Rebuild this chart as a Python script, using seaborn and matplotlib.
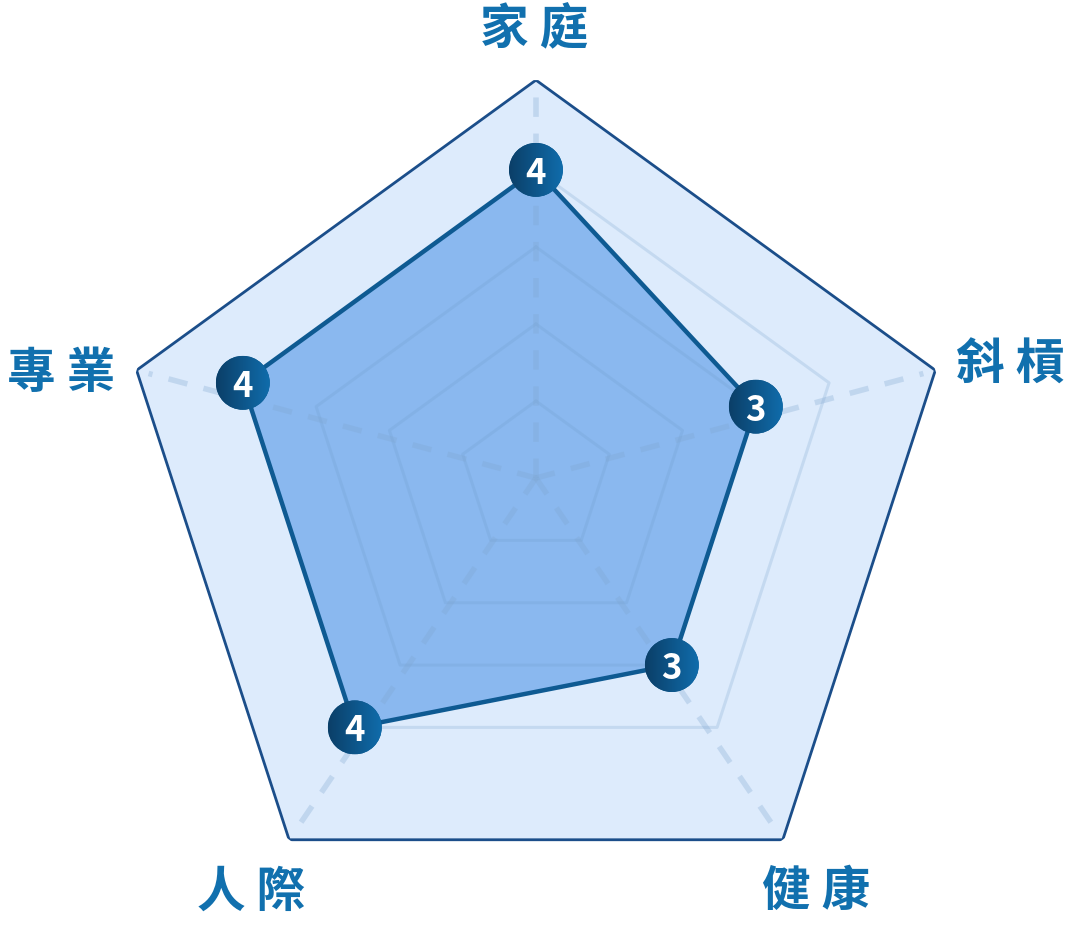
import numpy as np
import pandas as pd
import seaborn as sns
import matplotlib.pyplot as plt
from matplotlib.patches import Circle
from matplotlib.colors import LinearSegmentedColormap

categories = ["家庭", "斜槓", "健康", "人際", "專業"]
labels = ["家 庭", "斜 槓", "健 康", "人 際", "專 業"]
scores = [4, 3, 3, 4, 4]
levels = [1, 2, 3, 4]
r_max = 5.45

sns.set_theme(style="white")
plt.rcParams['font.family'] = ['Noto Sans CJK TC', 'DejaVu Sans']

df = pd.DataFrame({"category": categories, "score": scores})
n = len(df)
df["angle"] = np.linspace(0, 2 * np.pi, n, endpoint=False)
closed_ang = np.append(df["angle"].values, df["angle"].values[0])
closed_val = np.append(df["score"].values, df["score"].values[0])

W, H = 1073, 927
fig = plt.figure(figsize=(W / 100, H / 100), dpi=100)


def polar_ax(rect):
    a = fig.add_axes(rect, projection="polar")
    a.set_theta_offset(np.pi / 2)
    a.set_theta_direction(-1)
    a.set_ylim(0, r_max)
    a.axis("off")
    return a


# outer frame sits a bit lower than the inner (tilted) grid
ax_out = polar_ax([0.1081, 0.0076, 0.7828, 0.906])
ax = polar_ax([0.1081, 0.0313, 0.7828, 0.906])

ax_out.fill(closed_ang, [r_max] * len(closed_ang), color="#DDEBFC", zorder=1)
ax_out.plot(closed_ang, [r_max] * len(closed_ang), color="#1B4E8A", lw=2, zorder=6)

# score area
ax.fill(closed_ang, closed_val, color="#8AB8EF", zorder=2)

# grid rings + dashed spokes (translucent, on top of the fill)
for lv in levels:
    ax.plot(closed_ang, [lv] * len(closed_ang), color="#6E9CC8", alpha=0.22,
            lw=2.2, zorder=3)
inv = ax.transData.inverted()
for a in df["angle"]:
    vx, vy = ax_out.transData.transform((a, r_max))
    cx, cy = ax.transData.transform((a, 0))
    ex, ey = cx + 0.97 * (vx - cx), cy + 0.97 * (vy - cy)
    t2, r2 = inv.transform((ex, ey))
    ax.plot([a, t2], [0, r2], color="#7FA6D0", alpha=0.3, lw=4,
            dashes=(3.5, 3), zorder=3)

ax.plot(closed_ang, closed_val, color="#0E5A92", lw=3.2, zorder=4)

sns.scatterplot(data=df, x="angle", y="score", ax=ax, s=1500, color="#0D5689",
                edgecolor="none", zorder=5, legend=False)

# gradient badges drawn on a pixel-space overlay
ov = fig.add_axes([0, 0, 1, 1], facecolor="none")
ov.axis("off")
grad = LinearSegmentedColormap.from_list("badge", ["#0B3F68", "#106CAB"])
gx = np.linspace(0, 1, 64).reshape(1, -1)
for a, v in zip(df["angle"], df["score"]):
    px, py = ax.transData.transform((a, v))
    rad = 27
    im = ov.imshow(gx, cmap=grad, extent=[px - rad, px + rad, py - rad, py + rad],
                   aspect="auto", zorder=5)
    im.set_clip_path(Circle((px, py), rad, transform=ov.transData))
    ov.text(px, py, str(v), ha="center", va="center_baseline", color="white",
            fontsize=25, fontweight="bold", zorder=7)
ov.set_xlim(0, W)
ov.set_ylim(0, H)

# axis labels, offset from the outer vertices
label_off = [(-2, 50), (75, 5), (33, -52), (-38, -52), (-75, -3)]
for a, lab, off in zip(df["angle"], labels, label_off):
    ax_out.annotate(lab, xy=(a, r_max), xytext=off, textcoords="offset pixels",
                    ha="center", va="center", color="#1170AE", fontsize=35,
                    fontweight="bold", zorder=7)

fig.savefig("out.png", dpi=100)
